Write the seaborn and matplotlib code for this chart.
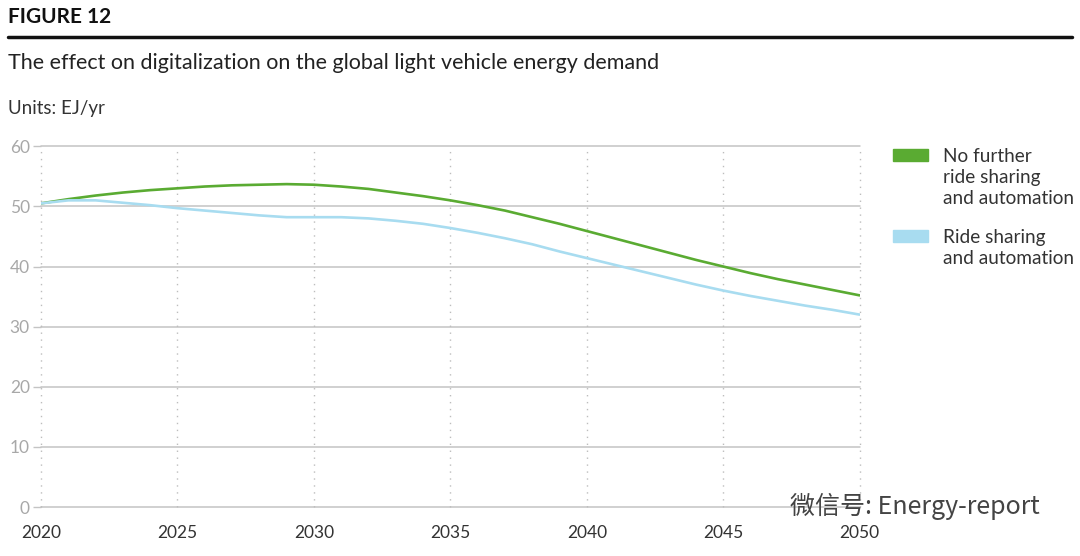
import numpy as np
import pandas as pd
import seaborn as sns
import matplotlib
matplotlib.use("Agg")
import matplotlib.pyplot as plt  # noqa
from matplotlib.patches import Rectangle

years = list(range(2020, 2051))

# EJ/yr
no_sharing = [50.5, 51.2, 51.8, 52.3, 52.7, 53.0, 53.3, 53.5, 53.6, 53.7,
              53.6, 53.3, 52.9, 52.3, 51.7, 51.0, 50.2, 49.3, 48.2, 47.1,
              45.9, 44.7, 43.5, 42.3, 41.1, 40.0, 38.9, 37.9, 37.0, 36.1, 35.2]
sharing = [50.5, 51.0, 51.0, 50.6, 50.2, 49.7, 49.3, 48.9, 48.5, 48.2,
           48.2, 48.2, 48.0, 47.6, 47.1, 46.4, 45.6, 44.7, 43.7, 42.5,
           41.4, 40.3, 39.2, 38.1, 37.0, 36.0, 35.1, 34.3, 33.5, 32.8, 32.0]

series_names = ["No further\nride sharing\nand automation", "Ride sharing\nand automation"]
colors = ["#5aab32", "#a8dcf0"]
x_ticks = [2020, 2025, 2030, 2035, 2040, 2045, 2050]
y_ticks = [0, 10, 20, 30, 40, 50, 60]

df = pd.DataFrame({
    "year": years * 2,
    "value": no_sharing + sharing,
    "series": [series_names[0]] * len(years) + [series_names[1]] * len(years),
})

sns.set_style("white")
plt.rcParams["font.family"] = ["Lato", "DejaVu Sans"]

fig = plt.figure(figsize=(10.8, 5.56), dpi=100)
ax = fig.add_axes([0.038, 0.088, 0.758, 0.649])

sns.lineplot(data=df, x="year", y="value", hue="series", palette=colors,
             linewidth=1.9, legend=False, ax=ax, zorder=3)

ax.set_xlim(2020, 2050)
ax.set_ylim(0, 60)
ax.set_xticks(x_ticks)
ax.set_yticks(y_ticks)
ax.set_xlabel("")
ax.set_ylabel("")
for s in ax.spines.values():
    s.set_visible(False)

for y in y_ticks:
    ax.axhline(y, color="#c4c4c4", lw=1.1, zorder=1, clip_on=False)
for x in x_ticks:
    ax.axvline(x, color="#bdbdbd", lw=1.0, ls=(0, (1, 4)), zorder=1, clip_on=False)

ax.tick_params(axis="y", length=6, width=1.0, color="#c4c4c4", labelcolor="#a8a8a8",
               labelsize=12.5, pad=2, left=True)
ax.tick_params(axis="x", length=0, labelcolor="#333333", labelsize=12.5, pad=13)

# titles
fig.text(0.007, 0.97, "FIGURE 12", fontsize=15, fontweight="bold", color="#111111",
         va="center", ha="left")
fig.add_artist(plt.Line2D([0.007, 0.993], [0.933, 0.933], color="#111111", lw=2.5))
fig.text(0.007, 0.887, "The effect on digitalization on the global light vehicle energy demand",
         fontsize=15.5, color="#222222", va="center", ha="left")
fig.text(0.007, 0.804, "Units: EJ/yr", fontsize=13.5, color="#333333", va="center", ha="left")

# legend
patch_y = [1 - 155 / 556, 1 - 236 / 556]
for c, name, py in zip(colors, series_names, patch_y):
    fig.add_artist(Rectangle((893 / 1080, py - 6 / 556), 35 / 1080, 12 / 556,
                             transform=fig.transFigure, color=c))
    fig.text(943 / 1080, py + 7 / 556, name, fontsize=13.7, color="#333333",
             va="top", ha="left", linespacing=1.3)

fig.text(790 / 1080, 1 - 506 / 556, "微信号: Energy-report", fontsize=18, color="#444444",
         va="center", ha="left", family=["Noto Sans CJK SC", "DejaVu Sans"])

fig.savefig("out.png", dpi=100)
